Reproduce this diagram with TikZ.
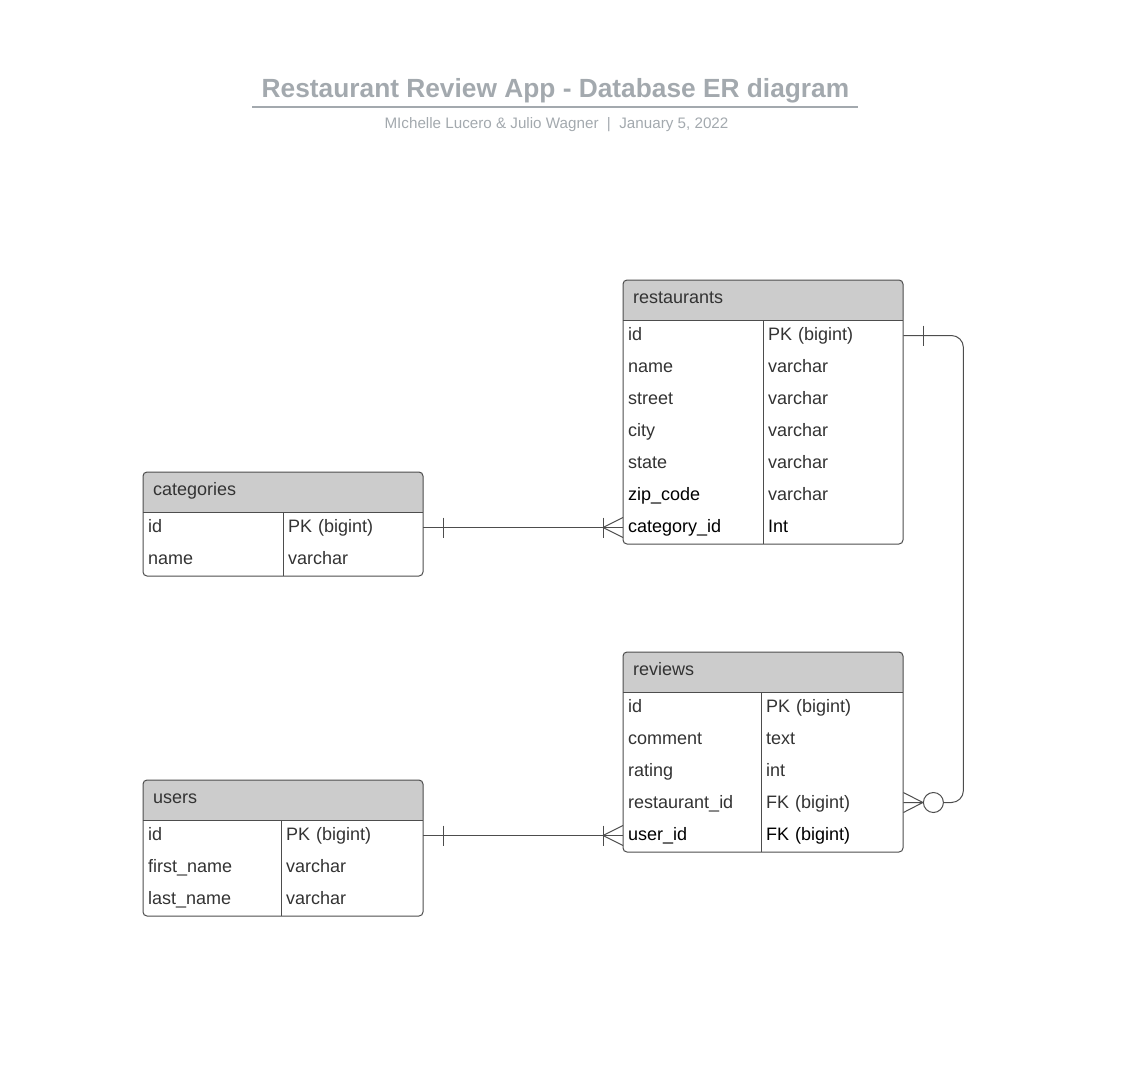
\documentclass[tikz,border=0pt]{standalone}
\usepackage{fontspec}
\setmainfont{Liberation Sans}
\usetikzlibrary{calc}

\definecolor{inkgray}{HTML}{333333}
\definecolor{framegray}{HTML}{4D4D4D}
\definecolor{headgray}{HTML}{CCCCCC}
\definecolor{titlegray}{HTML}{A3A9AE}

\tikzset{
	tablebox/.style={draw=framegray, line width=1pt, rounded corners=4pt},
	headtext/.style={anchor=west, inner xsep=10pt, inner ysep=0pt, text height=13pt, text depth=4pt, text=inkgray, font=\fontsize{18}{22}\selectfont},
	rowcell/.style={anchor=west, inner xsep=5pt, inner ysep=0pt, text width=#1, minimum height=32pt, text height=13pt, text depth=4pt, text=inkgray, font=\fontsize{18}{22}\selectfont},
	rowcell/.default=130pt,
	relline/.style={draw=framegray, line width=1pt},
}

\begin{document}
\begin{tikzpicture}[x=1pt,y=-1pt]
		%%%%% START %%%%%
		\useasboundingbox (0,0) rectangle (1148,1087);
		
		% title
		\node[anchor=base, text=titlegray, font=\bfseries\fontsize{26.3}{30}\selectfont] (title) at (555.5,97.5) {Restaurant Review App - Database ER diagram};
		\draw[titlegray, line width=1.5pt] (252,107) -- (858,107);
		\node[anchor=base, text=titlegray, font=\fontsize{15.2}{18}\selectfont] (subtitle) at (556.5,128) {MIchelle Lucero \& Julio Wagner \ | \ January 5, 2022};
		
		% restaurants
		\fill[headgray, rounded corners=4pt] (623,280) rectangle (903,320);
		\fill[headgray] (623,310) rectangle (903,320);
		\draw[tablebox] (623,280) rectangle (903,544);
		\draw[framegray, line width=1pt] (623,320) -- (903,320) (763,320) -- (763,544);
		\node[headtext] (restaurants) at (623,298.5) {restaurants};
		\node[rowcell] (res-id) at (623,335.5) {id};
		\node[rowcell] (res-idt) at (763,335.5) {PK (bigint)};
		\node[rowcell] (res-name) at (623,367.5) {name};
		\node[rowcell] (res-namet) at (763,367.5) {varchar};
		\node[rowcell] (res-street) at (623,399.5) {street};
		\node[rowcell] (res-streett) at (763,399.5) {varchar};
		\node[rowcell] (res-city) at (623,431.5) {city};
		\node[rowcell] (res-cityt) at (763,431.5) {varchar};
		\node[rowcell] (res-state) at (623,463.5) {state};
		\node[rowcell] (res-statet) at (763,463.5) {varchar};
		\node[rowcell, text=black] (res-zip) at (623,495.5) {zip\_code};
		\node[rowcell] (res-zipt) at (763,495.5) {varchar};
		\node[rowcell, text=black] (res-cat) at (623,527.5) {category\_id};
		\node[rowcell, text=black] (res-catt) at (763,527.5) {Int};
		
		% categories
		\fill[headgray, rounded corners=4pt] (143,472) rectangle (423,512);
		\fill[headgray] (143,502) rectangle (423,512);
		\draw[tablebox] (143,472) rectangle (423,576);
		\draw[framegray, line width=1pt] (143,512) -- (423,512) (283,512) -- (283,576);
		\node[headtext] (categories) at (143,490.5) {categories};
		\node[rowcell] (cat-id) at (143,527.5) {id};
		\node[rowcell] (cat-idt) at (283,527.5) {PK (bigint)};
		\node[rowcell] (cat-name) at (143,559.5) {name};
		\node[rowcell] (cat-namet) at (283,559.5) {varchar};
		
		% reviews
		\fill[headgray, rounded corners=4pt] (623,652) rectangle (903,692);
		\fill[headgray] (623,682) rectangle (903,692);
		\draw[tablebox] (623,652) rectangle (903,852);
		\draw[framegray, line width=1pt] (623,692) -- (903,692) (761,692) -- (761,852);
		\node[headtext] (reviews) at (623,670.5) {reviews};
		\node[rowcell=128pt] (rev-id) at (623,707.5) {id};
		\node[rowcell=132pt] (rev-idt) at (761,707.5) {PK (bigint)};
		\node[rowcell=128pt] (rev-comment) at (623,739.5) {comment};
		\node[rowcell=132pt] (rev-commentt) at (761,739.5) {text};
		\node[rowcell=128pt] (rev-rating) at (623,771.5) {rating};
		\node[rowcell=132pt] (rev-ratingt) at (761,771.5) {int};
		\node[rowcell=128pt] (rev-rst) at (623,803.5) {restaurant\_id};
		\node[rowcell=132pt] (rev-rstt) at (761,803.5) {FK (bigint)};
		\node[rowcell=128pt, text=black] (rev-usr) at (623,835.5) {user\_id};
		\node[rowcell=132pt, text=black] (rev-usrt) at (761,835.5) {FK (bigint)};
		
		% users
		\fill[headgray, rounded corners=4pt] (143,780) rectangle (423,820);
		\fill[headgray] (143,810) rectangle (423,820);
		\draw[tablebox] (143,780) rectangle (423,916);
		\draw[framegray, line width=1pt] (143,820) -- (423,820) (281,820) -- (281,916);
		\node[headtext] (users) at (143,798.5) {users};
		\node[rowcell=128pt] (usr-id) at (143,835.5) {id};
		\node[rowcell=132pt] (usr-idt) at (281,835.5) {PK (bigint)};
		\node[rowcell=128pt] (usr-first) at (143,867.5) {first\_name};
		\node[rowcell=132pt] (usr-firstt) at (281,867.5) {varchar};
		\node[rowcell=128pt] (usr-last) at (143,899.5) {last\_name};
		\node[rowcell=132pt] (usr-lastt) at (281,899.5) {varchar};
		
		% categories -- restaurants
		\draw[relline] (cat-idt.east) -- (res-cat.west);
		\draw[relline] ($(cat-idt.east)+(20,-10)$) -- ++(0,20);
		\draw[relline] ($(res-cat.west)+(-20,-10)$) -- ++(0,20);
		\draw[relline] ($(res-cat.west)+(0,-10)$) -- ($(res-cat.west)+(-20,0)$) -- ($(res-cat.west)+(0,10)$);
		
		% users -- reviews
		\draw[relline] (usr-idt.east) -- (rev-usr.west);
		\draw[relline] ($(usr-idt.east)+(20,-10)$) -- ++(0,20);
		\draw[relline] ($(rev-usr.west)+(-20,-10)$) -- ++(0,20);
		\draw[relline] ($(rev-usr.west)+(0,-10)$) -- ($(rev-usr.west)+(-20,0)$) -- ($(rev-usr.west)+(0,10)$);
		
		% restaurants -- reviews
		\node[circle, draw=framegray, line width=1pt, minimum size=20pt, inner sep=0pt] (opt) at ($(rev-rstt.east)+(30,-1)$) {};
		\draw[relline, rounded corners=12pt] (res-idt.east) -| ($(rev-rstt.east)+(60,-1)$) -- (opt.east);
		\draw[relline] ($(res-idt.east)+(20,-10)$) -- ++(0,20);
		\draw[relline] ($(rev-rstt.east)+(0,-11)$) -- (opt.west) -- ($(rev-rstt.east)+(0,9)$) ($(rev-rstt.east)+(0,-1)$) -- (opt.west);
		
		%%%%% END %%%%%
\end{tikzpicture}
\end{document}
